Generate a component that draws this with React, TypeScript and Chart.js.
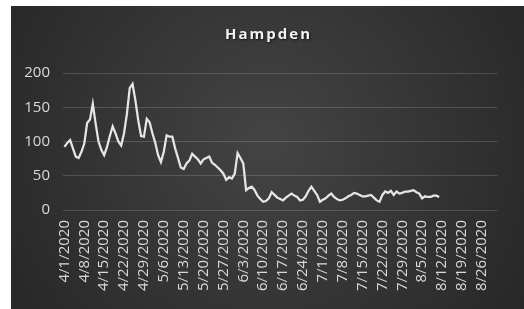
import React, { useEffect, useRef } from "react";
import { Chart, registerables } from "chart.js";

Chart.register(...registerables);

const TITLE = "Hampden";
const START_YEAR = 2020;
const START_MONTH = 4; // April
const START_DAY = 1;
const DAY_COUNT = 153; // 4/1/2020 .. 8/31/2020
const TICK_EVERY = 7;
const Y_TICKS = [0, 50, 100, 150, 200];

// daily values from 4/1/2020 to 8/11/2020
const cases = [
  92, 98, 102, 90, 78, 76, 85, 97, 127, 132,
  155, 126, 100, 88, 80, 92, 108, 122, 112, 100,
  94, 112, 140, 178, 184, 160, 131, 108, 107, 133,
  128, 112, 98, 80, 70, 85, 109, 107, 107, 90,
  76, 62, 60, 68, 72, 82, 78, 74, 68, 74,
  76, 78, 69, 66, 62, 58, 53, 44, 48, 46,
  53, 83, 76, 68, 29, 32, 34, 29, 21, 16,
  12, 13, 17, 26, 22, 18, 16, 14, 18, 21,
  24, 21, 19, 14, 15, 20, 28, 34, 28, 22,
  12, 15, 17, 21, 24, 19, 16, 14, 15, 17,
  20, 22, 25, 24, 22, 20, 20, 21, 22, 18,
  14, 12, 22, 27, 25, 28, 22, 27, 24, 25,
  27, 27, 28, 29, 26, 24, 17, 20, 19, 19,
  21, 21, 19,
];

const dateLabels: string[] = [];
for (let i = 0; i < DAY_COUNT; i++) {
  const d = new Date(START_YEAR, START_MONTH - 1, START_DAY + i);
  dateLabels.push(`${d.getMonth() + 1}/${d.getDate()}/${d.getFullYear()}`);
}

const FONT = "'Open Sans', 'Noto Sans', sans-serif";

const bgPlugin = {
  id: "bgPlugin",
  beforeDraw(chart: any) {
    const { ctx, width, height } = chart;
    ctx.save();
    const g = ctx.createRadialGradient(width * 0.5, height * 0.45, 10, width * 0.5, height * 0.45, width * 0.62);
    g.addColorStop(0, "#434343");
    g.addColorStop(1, "#262626");
    ctx.fillStyle = g;
    ctx.fillRect(0, 0, width, height);
    ctx.restore();
  },
  afterDraw(chart: any) {
    const { ctx, width } = chart;
    ctx.save();
    ctx.font = `bold 15px ${FONT}`;
    try {
      (ctx as any).letterSpacing = "2px";
    } catch (e) {}
    ctx.textAlign = "center";
    ctx.textBaseline = "middle";
    ctx.shadowColor = "rgba(0,0,0,0.7)";
    ctx.shadowBlur = 2;
    ctx.shadowOffsetX = 1;
    ctx.shadowOffsetY = 1;
    ctx.fillStyle = "#f2f2f2";
    ctx.fillText(TITLE, width / 2 + 1, 29);
    ctx.restore();
  },
};

export default function App() {
  const ref = useRef<HTMLCanvasElement>(null);
  useEffect(() => {
    if (!ref.current) return;
    const chart = new Chart(ref.current, {
      type: "line",
      data: {
        labels: dateLabels,
        datasets: [
          {
            label: TITLE,
            data: cases,
            borderColor: "#e6e6e6",
            borderWidth: 2.25,
            pointRadius: 0,
            tension: 0,
            fill: false,
          },
        ],
      },
      options: {
        animation: false,
        responsive: false,
        maintainAspectRatio: false,
        layout: { padding: { top: 67, right: 19, left: 0, bottom: 0 } },
        plugins: {
          legend: { display: false },
          title: { display: false },
          tooltip: { enabled: false },
        },
        scales: {
          x: {
            offset: true,
            grid: { display: false, drawTicks: false },
            border: { display: false },
            ticks: {
              autoSkip: false,
              maxRotation: 90,
              minRotation: 90,
              padding: 10,
              color: "#d9d9d9",
              font: { family: FONT, size: 15 },
              callback: (_v: any, i: number) => (i % TICK_EVERY === 0 ? dateLabels[i] : ""),
            },
            afterFit: (s: any) => {
              s.height = 99;
            },
          },
          y: {
            min: 0,
            max: 200,
            afterBuildTicks: (s: any) => {
              s.ticks = Y_TICKS.map((v) => ({ value: v }));
            },
            grid: { color: "rgba(255,255,255,0.16)", lineWidth: 1, drawTicks: false },
            border: { display: false },
            ticks: {
              padding: 13,
              color: "#d9d9d9",
              font: { family: FONT, size: 15 },
            },
            afterFit: (s: any) => {
              s.width = 52;
            },
          },
        },
      },
      plugins: [bgPlugin],
    });
    return () => chart.destroy();
  }, []);
  return (
    <div style={{ position: "fixed", left: 11, top: 6, width: 513, height: 303 }}>
      <canvas ref={ref} width={513} height={303} style={{ display: "block" }} />
    </div>
  );
}
